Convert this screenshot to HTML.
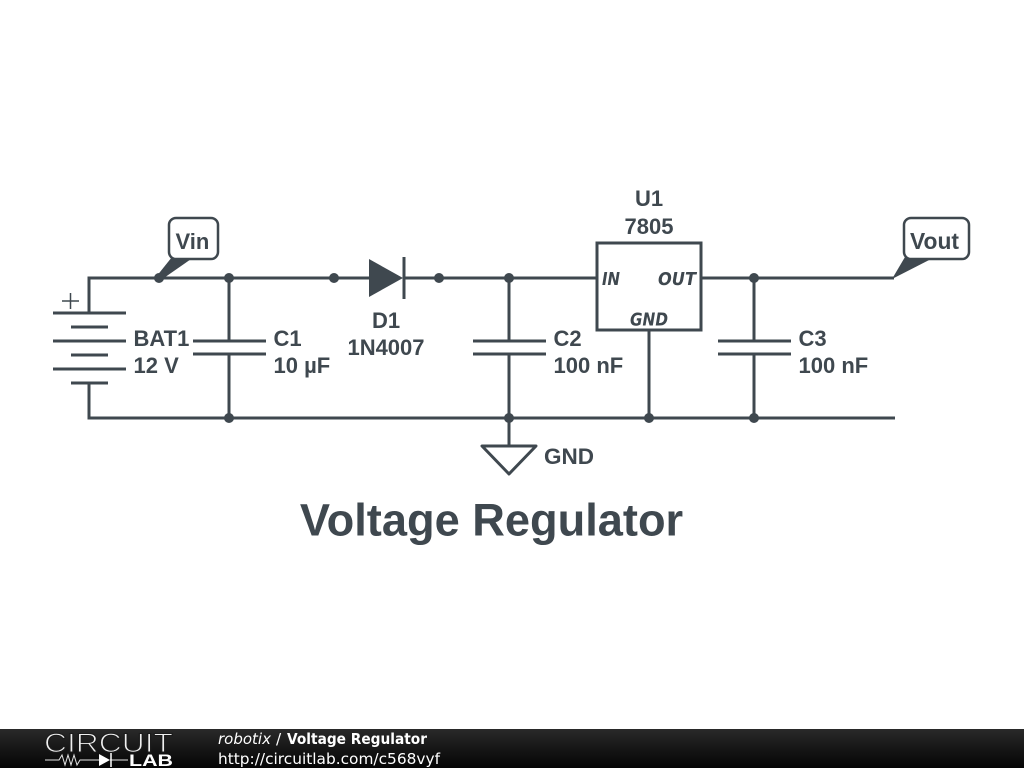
<!DOCTYPE html>
<html>
<head>
<meta charset="utf-8">
<title>Voltage Regulator</title>
<style>
html,body{margin:0;padding:0;background:#fff;width:1024px;height:768px;overflow:hidden}
svg{display:block}
.w{stroke:#3f484f;stroke-width:3;fill:none;stroke-linecap:butt}
.t{font-family:"Liberation Sans",sans-serif;font-weight:bold;font-size:22px;fill:#3f484f}
.p{font-family:"DejaVu Sans",sans-serif;font-weight:bold;font-style:italic;font-size:18px;fill:#3f484f}
.f{font-family:"DejaVu Sans",sans-serif;font-size:15.300px;fill:#fff}
</style>
</head>
<body>
<svg width="1024" height="768" viewBox="0 0 1024 768" xmlns="http://www.w3.org/2000/svg">
<defs>
<linearGradient id="g" x1="0" y1="0" x2="0" y2="1">
<stop offset="0" stop-color="#2a2a2a"/>
<stop offset="0.5" stop-color="#161616"/>
<stop offset="1" stop-color="#050505"/>
</linearGradient>
</defs>
<rect width="1024" height="768" fill="#fff"/>

<!-- wires -->
<path class="w" d="M89 313V278H369M403 278H597M701 278H894"/>
<path class="w" d="M89 383V418H895"/>
<path class="w" d="M229 278V341M229 354V418"/>
<path class="w" d="M509 278V341M509 354V446"/>
<path class="w" d="M754 278V341M754 354V418"/>
<path class="w" d="M649 330V418"/>

<!-- battery -->
<path class="w" d="M53 313H126M71 327H108M53 341H126M71 355H108M53 369H126M71 383H108"/>
<path d="M62 301H79M70.500 293V309" stroke="#3f484f" stroke-width="1.500" fill="none"/>

<!-- capacitors -->
<path class="w" d="M193 341H266M193 354H266"/>
<path class="w" d="M473 341H546M473 354H546"/>
<path class="w" d="M718 341H791M718 354H791"/>

<!-- diode -->
<path d="M369 259L403 278L369 297Z" fill="#3f484f"/>
<path class="w" d="M404 257V299"/>

<!-- regulator -->
<rect x="597" y="243" width="104" height="87" class="w"/>

<!-- ground -->
<path d="M482 446H536L509 474Z" class="w" stroke-linejoin="round"/>

<!-- junctions -->
<g fill="#3f484f">
<circle cx="159" cy="278" r="5"/>
<circle cx="229" cy="278" r="5"/>
<circle cx="334" cy="278" r="5"/>
<circle cx="439" cy="278" r="5"/>
<circle cx="509" cy="278" r="5"/>
<circle cx="754" cy="278" r="5"/>
<circle cx="229" cy="418" r="5"/>
<circle cx="509" cy="418" r="5"/>
<circle cx="649" cy="418" r="5"/>
<circle cx="754" cy="418" r="5"/>
</g>

<!-- net flags -->
<path d="M156 277L172 257H194L161 280Z" fill="#3f484f"/>
<rect x="169" y="218" width="49" height="41" rx="7" fill="#fff" stroke="#3f484f" stroke-width="2.500"/>
<text class="t" x="175.500" y="248.800">Vin</text>
<path d="M892 279L905 257H935Z" fill="#3f484f"/>
<rect x="904" y="218" width="65" height="41" rx="7" fill="#fff" stroke="#3f484f" stroke-width="2.500"/>
<text class="t" x="910" y="248.800" style="font-size:22.800px">Vout</text>

<!-- labels -->
<text class="t" x="133.500" y="345.800">BAT1</text>
<text class="t" x="133.500" y="372.800">12 V</text>
<text class="t" x="273.500" y="345.800">C1</text>
<text class="t" x="273.500" y="372.800">10 µF</text>
<text class="t" x="386" y="327.800" text-anchor="middle">D1</text>
<text class="t" x="386" y="354.800" text-anchor="middle">1N4007</text>
<text class="t" x="553.500" y="345.800">C2</text>
<text class="t" x="553.500" y="372.800">100 nF</text>
<text class="t" x="798.500" y="345.800">C3</text>
<text class="t" x="798.500" y="372.800">100 nF</text>
<text class="t" x="649" y="205.800" text-anchor="middle">U1</text>
<text class="t" x="649" y="233.800" text-anchor="middle">7805</text>
<text class="t" x="544" y="463.800" style="font-size:22.500px">GND</text>
<text class="p" x="602" y="285" textLength="18" lengthAdjust="spacingAndGlyphs">IN</text>
<text class="p" x="658" y="285" textLength="38" lengthAdjust="spacingAndGlyphs">OUT</text>
<text class="p" x="630" y="325.500" textLength="38" lengthAdjust="spacingAndGlyphs">GND</text>

<text x="491.500" y="535.300" text-anchor="middle" font-family="'Liberation Sans',sans-serif" font-weight="bold" font-size="45.200" fill="#3f484f">Voltage Regulator</text>

<!-- footer -->
<rect x="0" y="729" width="1024" height="39" fill="url(#g)"/>
<text x="44" y="752" font-family="'Liberation Sans',sans-serif" font-size="27" fill="#f0f0f0" stroke="#1c1c1c" stroke-width="1.100" paint-order="fill" textLength="129" lengthAdjust="spacingAndGlyphs">CIRCUIT</text>
<path d="M45 760H59L62 755L65 765L68 755L71 765L74 755L77 765L80 760H100M110 760H128" stroke="#e4e4e4" stroke-width="1" fill="none"/>
<path d="M99 754L110 760L99 766Z" fill="#fff"/>
<path d="M111 753V767" stroke="#fff" stroke-width="1.500"/>
<text x="129" y="766" font-family="'Liberation Sans',sans-serif" font-weight="bold" font-size="17" fill="#fff" textLength="44" lengthAdjust="spacingAndGlyphs">LAB</text>
<text class="f" x="218" y="744" textLength="53" lengthAdjust="spacingAndGlyphs" font-style="italic">robotix</text>
<text class="f" x="276" y="744">/</text>
<text class="f" x="287" y="744" font-weight="bold" textLength="140" lengthAdjust="spacingAndGlyphs">Voltage Regulator</text>
<text class="f" x="218" y="764" textLength="222" lengthAdjust="spacingAndGlyphs">http://circuitlab.com/c568vyf</text>
</svg>
</body>
</html>
